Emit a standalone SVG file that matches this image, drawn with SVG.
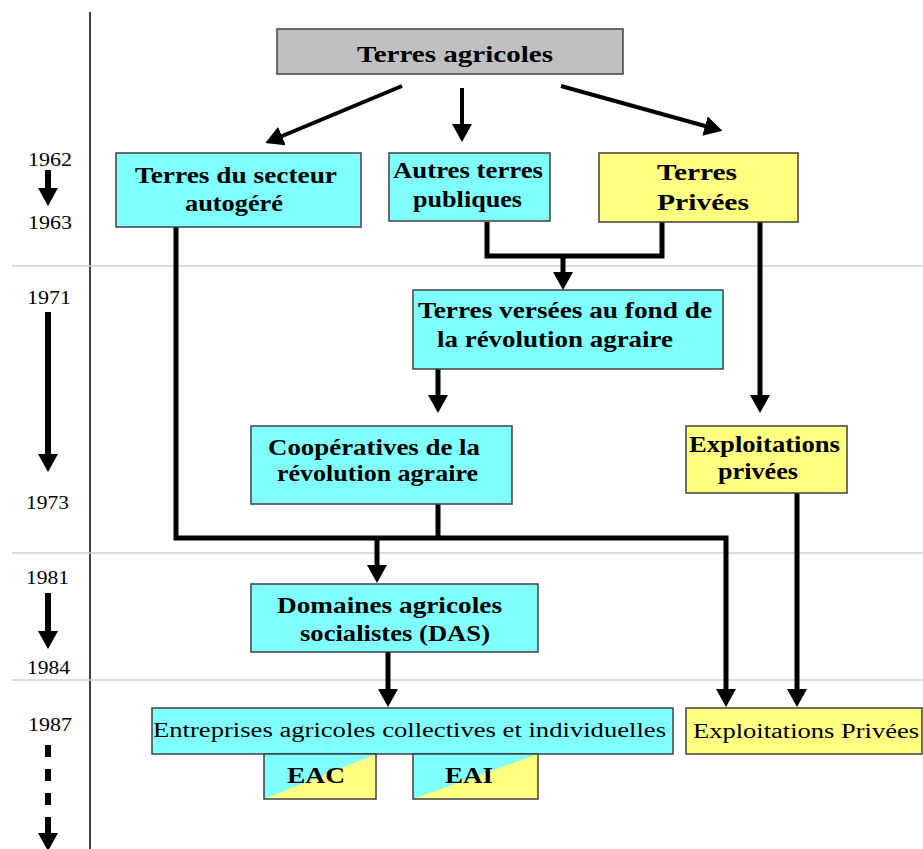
<svg xmlns="http://www.w3.org/2000/svg" width="923" height="849" viewBox="0 0 923 849">
<style>
.bx{stroke:#404040;stroke-width:1.5}
.cy{fill:#80ffff}
.ye{fill:#ffff80}
.gr{fill:#c0c0c0}
.t{font-family:"Liberation Serif","Times New Roman",serif;font-weight:bold;font-size:23px;fill:#000}
.n{font-family:"Liberation Serif","Times New Roman",serif;font-size:20px;fill:#000}
.yr{font-family:"Liberation Serif","Times New Roman",serif;font-size:19px;fill:#000}
.c{fill:none;stroke:#000;stroke-width:5;stroke-linejoin:miter}
.d{fill:none;stroke:#000;stroke-width:4}
.sep{stroke:#d0d0d0;stroke-width:1.5}
</style>
<defs>
<marker id="ah" markerUnits="userSpaceOnUse" viewBox="0 0 18 20" markerWidth="18" markerHeight="20" refX="1" refY="10" orient="auto">
<path d="M0,0 L18,10 L0,20 z" fill="#000"/>
</marker>
</defs>
<rect width="923" height="849" fill="#fff"/>
<g id="grid">
<line x1="90" y1="12" x2="90" y2="849" stroke="#000" stroke-width="1.5"/>
<line class="sep" x1="12" y1="266" x2="923" y2="266"/>
<line class="sep" x1="12" y1="553" x2="923" y2="553"/>
<line class="sep" x1="12" y1="680" x2="923" y2="680"/>
</g>
<g id="timeline">
<text class="yr" x="28" y="166" textLength="44" lengthAdjust="spacingAndGlyphs">1962</text>
<text class="yr" x="28" y="229" textLength="44" lengthAdjust="spacingAndGlyphs">1963</text>
<text class="yr" x="27" y="304" textLength="44" lengthAdjust="spacingAndGlyphs">1971</text>
<text class="yr" x="26" y="509" textLength="43" lengthAdjust="spacingAndGlyphs">1973</text>
<text class="yr" x="26" y="584" textLength="43" lengthAdjust="spacingAndGlyphs">1981</text>
<text class="yr" x="27" y="674" textLength="43" lengthAdjust="spacingAndGlyphs">1984</text>
<text class="yr" x="28" y="731" textLength="44" lengthAdjust="spacingAndGlyphs">1987</text>
<line x1="48" y1="170" x2="48" y2="189" stroke="#000" stroke-width="6" marker-end="url(#ah)"/>
<line x1="48" y1="312" x2="48" y2="455" stroke="#000" stroke-width="6" marker-end="url(#ah)"/>
<line x1="48" y1="593" x2="48" y2="632" stroke="#000" stroke-width="6" marker-end="url(#ah)"/>
<line x1="48" y1="745" x2="48" y2="805" stroke="#000" stroke-width="6" stroke-dasharray="12 12"/>
<line x1="48" y1="817" x2="48" y2="834" stroke="#000" stroke-width="6" marker-end="url(#ah)"/>
</g>
<g id="connectors">
<line class="d" x1="402" y1="86" x2="281" y2="136.5" marker-end="url(#ah)"/>
<line class="d" x1="462" y1="88" x2="462" y2="125" marker-end="url(#ah)"/>
<line class="d" x1="561" y1="86" x2="706" y2="126.3" marker-end="url(#ah)"/>
<polyline class="c" points="487,222 487,256 662,256 662,222"/>
<line class="c" x1="563" y1="256" x2="563" y2="273" marker-end="url(#ah)"/>
<line class="c" x1="760" y1="222" x2="760" y2="396" marker-end="url(#ah)"/>
<line class="c" x1="438" y1="369" x2="438" y2="396" marker-end="url(#ah)"/>
<polyline class="c" points="176,227 176,538 726,538 726,690" marker-end="url(#ah)"/>
<line class="c" x1="438" y1="504" x2="438" y2="538"/>
<line class="c" x1="377" y1="538" x2="377" y2="566" marker-end="url(#ah)"/>
<line class="c" x1="388" y1="652" x2="388" y2="690" marker-end="url(#ah)"/>
<line class="c" x1="797" y1="493" x2="797" y2="690" marker-end="url(#ah)"/>
</g>
<g id="terres-agricoles">
<rect class="bx gr" x="277" y="29" width="346" height="45"/>
<text class="t" x="357" y="62" font-size="26" textLength="196" lengthAdjust="spacingAndGlyphs">Terres agricoles</text>
</g>
<g id="secteur-autogere">
<rect class="bx cy" x="116" y="153" width="245" height="74"/>
<text class="t" x="135" y="183" textLength="202" lengthAdjust="spacingAndGlyphs">Terres du secteur</text>
<text class="t" x="185" y="211" textLength="98" lengthAdjust="spacingAndGlyphs">autogéré</text>
</g>
<g id="autres-terres-publiques">
<rect class="bx cy" x="389" y="153" width="161" height="68"/>
<text class="t" x="393" y="178" font-size="21" textLength="150" lengthAdjust="spacingAndGlyphs">Autres terres</text>
<text class="t" x="413" y="207" font-size="21" textLength="109" lengthAdjust="spacingAndGlyphs">publiques</text>
</g>
<g id="terres-privees">
<rect class="bx ye" x="599" y="153" width="199" height="69"/>
<text class="t" x="657" y="180" font-size="26" textLength="80" lengthAdjust="spacingAndGlyphs">Terres</text>
<text class="t" x="657" y="210" font-size="26" textLength="92" lengthAdjust="spacingAndGlyphs">Privées</text>
</g>
<g id="terres-versees">
<rect class="bx cy" x="413" y="290" width="310" height="79"/>
<text class="t" x="418" y="318" textLength="294" lengthAdjust="spacingAndGlyphs">Terres versées au fond de</text>
<text class="t" x="437" y="347" textLength="236" lengthAdjust="spacingAndGlyphs">la révolution agraire</text>
</g>
<g id="cooperatives">
<rect class="bx cy" x="251" y="426" width="261" height="78"/>
<text class="t" x="268" y="455" textLength="212" lengthAdjust="spacingAndGlyphs">Coopératives de la</text>
<text class="t" x="277" y="481" textLength="201" lengthAdjust="spacingAndGlyphs">révolution agraire</text>
</g>
<g id="exploitations-privees-1973">
<rect class="bx ye" x="686" y="426" width="161" height="67"/>
<text class="t" x="689" y="452" font-size="21" textLength="151" lengthAdjust="spacingAndGlyphs">Exploitations</text>
<text class="t" x="718" y="479" font-size="21" textLength="80" lengthAdjust="spacingAndGlyphs">privées</text>
</g>
<g id="das">
<rect class="bx cy" x="251" y="584" width="287" height="68"/>
<text class="t" x="277" y="613" textLength="225" lengthAdjust="spacingAndGlyphs">Domaines agricoles</text>
<text class="t" x="300" y="641" textLength="190" lengthAdjust="spacingAndGlyphs">socialistes (DAS)</text>
</g>
<g id="entreprises">
<rect class="bx cy" x="152" y="708" width="521" height="46"/>
<text class="n" x="153" y="737" textLength="513" lengthAdjust="spacingAndGlyphs">Entreprises agricoles collectives et individuelles</text>
</g>
<g id="eac">
<rect class="cy" x="264" y="754" width="112" height="45"/>
<polygon class="ye" points="264,799 376,754 376,799"/>
<rect class="bx" x="264" y="754" width="112" height="45" fill="none"/>
<text class="t" x="287" y="783" font-size="25" textLength="58" lengthAdjust="spacingAndGlyphs">EAC</text>
</g>
<g id="eai">
<rect class="cy" x="413" y="754" width="125" height="45"/>
<polygon class="ye" points="413,799 538,754 538,799"/>
<rect class="bx" x="413" y="754" width="125" height="45" fill="none"/>
<text class="t" x="445" y="783" font-size="25" textLength="48" lengthAdjust="spacingAndGlyphs">EAI</text>
</g>
<g id="exploitations-privees-1987">
<rect class="bx ye" x="686" y="708" width="236" height="46"/>
<text class="n" x="693" y="738" textLength="226" lengthAdjust="spacingAndGlyphs">Exploitations Privées</text>
</g>
</svg>
